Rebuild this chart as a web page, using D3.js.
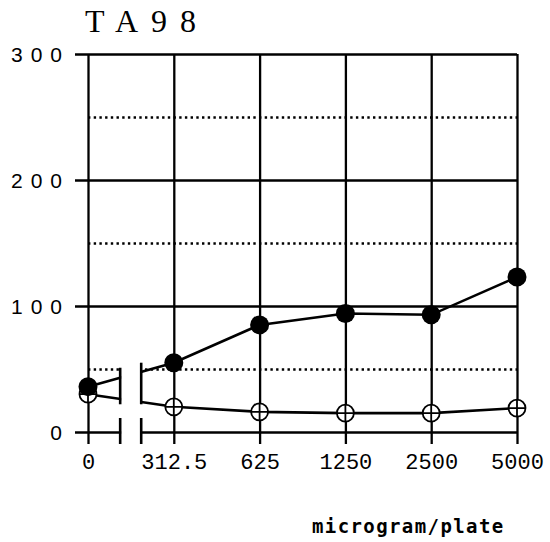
<!DOCTYPE html>
<html>
<head>
<meta charset="utf-8">
<script src="https://cdn.jsdelivr.net/npm/d3@7"></script>
<style>
  body { margin: 0; background: #fff; }
  svg { display: block; }
</style>
</head>
<body>
<svg class="chart"></svg>
<script>
// TA98 dose-response

let doses = ["0", "312.5", "625", "1250", "2500", "5000"];
let filledVals = [36, 55, 85, 94, 93, 123];   // closed circles
let openVals = [30, 20, 16, 15, 15, 19];      // open circles with cross
let solidTicks = [0, 100, 200, 300];
let dottedTicks = [50, 150, 250];

let width = 550, height = 542;
let plotLeft = 88, plotRight = 517, plotTop = 54, plotBottom = 432;
let tickBelow = 444;

let svg = d3.select(".chart")
  .attr("width", width)
  .attr("height", height);

let x = d3.scalePoint()
  .domain(doses)
  .range([plotLeft, plotRight])
  .padding(0);

let y = d3.scaleLinear()
  .domain([0, 300])
  .range([plotBottom, plotTop]);

// title
svg.append("text")
  .attr("x", 85)
  .attr("y", 32)
  .style("font-family", "'Liberation Serif', serif")
  .style("font-size", "32px")
  .style("letter-spacing", "13px")
  .text("TA98");

// dotted grid (50, 150, 250)
let dotted = svg.append("g")
  .attr("transform", "translate(" + plotLeft + ",0)")
  .call(d3.axisLeft(y).tickValues(dottedTicks).tickSize(-(plotRight - plotLeft)).tickFormat(""));
dotted.select(".domain").remove();
dotted.selectAll("line")
  .style("stroke", "#000")
  .style("stroke-width", 2.6)
  .style("stroke-dasharray", "2.4,3.3");

// solid grid + y labels
let yAxis = svg.append("g")
  .attr("transform", "translate(75,0)")
  .call(d3.axisLeft(y).tickValues(solidTicks).tickSize(-(plotRight - 75)).tickPadding(5));
yAxis.select(".domain").remove();
yAxis.selectAll("line")
  .style("stroke", "#000")
  .style("stroke-width", 2.3);
yAxis.selectAll("text")
  .attr("dy", "0.38em")
  .style("font-family", "'Liberation Sans', sans-serif")
  .style("font-size", "21px")
  .style("letter-spacing", "8px")
  .style("fill", "#000");

// vertical grid + x labels
let xAxis = svg.append("g")
  .attr("transform", "translate(0," + tickBelow + ")")
  .call(d3.axisBottom(x).tickSize(-(tickBelow - plotTop)).tickPadding(9));
xAxis.select(".domain").remove();
xAxis.selectAll("line")
  .style("stroke", "#000")
  .style("stroke-width", 2.3);
xAxis.selectAll("text")
  .style("font-family", "'Liberation Mono', monospace")
  .style("font-size", "22px")
  .style("fill", "#000");

// series lines
let line = d3.line()
  .x((d, i) => x(doses[i]))
  .y(d => y(d));

svg.append("path")
  .datum(openVals)
  .attr("d", line)
  .style("fill", "none")
  .style("stroke", "#000")
  .style("stroke-width", 2.6);

svg.append("path")
  .datum(filledVals)
  .attr("d", line)
  .style("fill", "none")
  .style("stroke", "#000")
  .style("stroke-width", 2.6);

// axis break between 0 and 312.5
let step = x(doses[1]) - x(doses[0]);
let bx0 = x(doses[0]) + step * 0.375;
let bx1 = x(doses[0]) + step * 0.62;

svg.append("rect")
  .attr("x", bx0 + 1)
  .attr("y", y(52))
  .attr("width", bx1 - bx0 - 2)
  .attr("height", tickBelow + 4 - y(52))
  .style("fill", "#fff");

[bx0, bx1].forEach(bx => {
  svg.append("line")
    .attr("x1", bx).attr("x2", bx)
    .attr("y1", bx === bx0 ? y(51) : y(55)).attr("y2", y(22))
    .style("stroke", "#000").style("stroke-width", 2.6);
  svg.append("line")
    .attr("x1", bx).attr("x2", bx)
    .attr("y1", y(0) - 14).attr("y2", tickBelow)
    .style("stroke", "#000").style("stroke-width", 2.6);
});

// open markers
let openG = svg.append("g").selectAll("g")
  .data(openVals)
  .join("g")
  .attr("transform", (d, i) => "translate(" + x(doses[i]) + "," + y(d) + ")");
openG.append("circle")
  .attr("r", 8.5)
  .style("fill", "#fff")
  .style("stroke", "#000")
  .style("stroke-width", 1.8);
openG.append("path")
  .attr("d", "M-8.5,0H8.5M0,-8.5V8.5")
  .style("stroke", "#000")
  .style("stroke-width", 1.8);

// filled markers
svg.append("g").selectAll("circle")
  .data(filledVals)
  .join("circle")
  .attr("cx", (d, i) => x(doses[i]))
  .attr("cy", d => y(d))
  .attr("r", 9.5)
  .style("fill", "#000");

// unit label
svg.append("text")
  .attr("x", 312)
  .attr("y", 533)
  .style("font-family", "'DejaVu Sans Mono', monospace")
  .style("font-weight", "bold")
  .style("font-size", "19px")
  .style("letter-spacing", "1.4px")
  .text("microgram/plate");
</script>
</body>
</html>
